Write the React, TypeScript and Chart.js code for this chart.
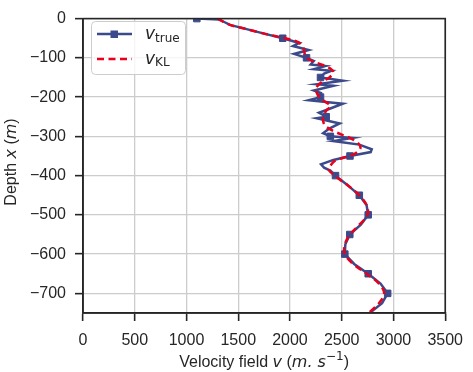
import React, { useEffect, useRef } from "react";
import { Chart, registerables } from "chart.js";

Chart.register(...registerables);

// v_true profile: depth (m, positive downward) and velocity (m/s)
const trueDepth = [0, 2, 8, 16, 28, 39, 50, 62, 70, 80, 90, 100, 108, 117, 121, 129, 133, 140, 150, 158, 167, 171, 183, 190, 200, 208, 217, 229, 240, 250, 254, 267, 280, 292, 300, 304, 312, 321, 333, 340, 350, 360, 371, 380, 387, 400, 425, 450, 475, 500, 525, 550, 575, 600, 625, 650, 675, 700, 725, 750];
const trueVelocity = [1100, 1317, 1360, 1420, 1600, 1760, 1930, 2090, 2030, 2180, 2040, 2160, 2230, 2200, 2340, 2230, 2400, 2330, 2295, 2510, 2260, 2420, 2230, 2300, 2295, 2180, 2510, 2390, 2280, 2350, 2258, 2480, 2380, 2320, 2390, 2600, 2420, 2670, 2790, 2780, 2580, 2420, 2300, 2330, 2390, 2440, 2560, 2670, 2740, 2756, 2685, 2578, 2535, 2530, 2620, 2756, 2875, 2944, 2890, 2770];

// v_KL profile
const klDepth = [0, 16, 28, 39, 50, 60, 75, 87, 100, 112, 124, 137, 150, 162, 179, 197, 210, 222, 235, 247, 260, 274, 290, 304, 318, 329, 340, 347, 362, 375, 384, 400, 425, 450, 475, 500, 525, 550, 575, 600, 625, 650, 675, 700, 725, 750];
const klVelocity = [1300, 1420, 1600, 1760, 1950, 2080, 2130, 2140, 2160, 2250, 2370, 2420, 2380, 2305, 2250, 2277, 2330, 2390, 2350, 2324, 2320, 2343, 2450, 2578, 2660, 2681, 2650, 2606, 2437, 2390, 2371, 2430, 2560, 2670, 2740, 2750, 2670, 2580, 2530, 2530, 2610, 2740, 2860, 2910, 2860, 2760];

const markerEvery = 50;
const markerMaxDepth = 700;
const xMin = 0, xMax = 3500, xStep = 500;
const yMin = -750, yMax = 0, yStep = 100;

const BLUE = "#3b4a8a";
const RED = "#e8001c";
const DARK = "#262626";
const GRID = "#cccccc";
const FONT = '"Liberation Sans", Arial, sans-serif';
const MATH = '"DejaVu Sans", sans-serif';

type Run = { text: string; font: string; dy?: number };

function runsWidth(ctx: CanvasRenderingContext2D, runs: Run[]) {
  let w = 0;
  for (const r of runs) {
    ctx.font = r.font;
    w += ctx.measureText(r.text).width;
  }
  return w;
}

function drawRuns(ctx: CanvasRenderingContext2D, runs: Run[], x: number, y: number) {
  let cx = x;
  ctx.textAlign = "left";
  ctx.textBaseline = "alphabetic";
  for (const r of runs) {
    ctx.font = r.font;
    ctx.fillText(r.text, cx, y + (r.dy || 0));
    cx += ctx.measureText(r.text).width;
  }
}

const decorPlugin = {
  id: "decor",
  afterDatasetsDraw(chart: any) {
    const ctx: CanvasRenderingContext2D = chart.ctx;
    const a = chart.chartArea;
    ctx.save();
    ctx.strokeStyle = DARK;
    ctx.lineWidth = 1.6;
    ctx.strokeRect(a.left, a.top, a.right - a.left, a.bottom - a.top);
    ctx.restore();
  },
  afterDraw(chart: any) {
    const ctx: CanvasRenderingContext2D = chart.ctx;
    const a = chart.chartArea;
    ctx.save();
    ctx.fillStyle = DARK;
    // X title
    const xr: Run[] = [
      { text: "Velocity field ", font: `16px ${FONT}` },
      { text: "v", font: `italic 16px ${MATH}` },
      { text: " (", font: `16px ${FONT}` },
      { text: "m. s", font: `italic 16px ${MATH}` },
      { text: "\u22121", font: `12px ${MATH}`, dy: -7 },
      { text: ")", font: `16px ${FONT}` },
    ];
    const xw = runsWidth(ctx, xr);
    drawRuns(ctx, xr, (a.left + a.right) / 2 - xw / 2, 367);
    // Y title
    const yr: Run[] = [
      { text: "Depth ", font: `16px ${FONT}` },
      { text: "x", font: `italic 16px ${MATH}` },
      { text: " (", font: `16px ${FONT}` },
      { text: "m", font: `italic 16px ${MATH}` },
      { text: ")", font: `16px ${FONT}` },
    ];
    const yw = runsWidth(ctx, yr);
    ctx.save();
    ctx.translate(16, 162);
    ctx.rotate(-Math.PI / 2);
    drawRuns(ctx, yr, -yw / 2, 0);
    ctx.restore();

    // Legend
    const bx = 91.5, by = 21.5, bw = 94, bh = 53, rr = 4;
    ctx.beginPath();
    ctx.moveTo(bx + rr, by);
    ctx.arcTo(bx + bw, by, bx + bw, by + bh, rr);
    ctx.arcTo(bx + bw, by + bh, bx, by + bh, rr);
    ctx.arcTo(bx, by + bh, bx, by, rr);
    ctx.arcTo(bx, by, bx + bw, by, rr);
    ctx.closePath();
    ctx.fillStyle = "rgba(255,255,255,0.8)";
    ctx.fill();
    ctx.strokeStyle = GRID;
    ctx.lineWidth = 1;
    ctx.stroke();

    ctx.strokeStyle = BLUE;
    ctx.lineWidth = 2.5;
    ctx.beginPath();
    ctx.moveTo(97, 34);
    ctx.lineTo(132, 34);
    ctx.stroke();
    ctx.fillStyle = BLUE;
    ctx.fillRect(110.5, 30.5, 7.5, 7.5);

    ctx.strokeStyle = RED;
    ctx.setLineDash([7, 4.5]);
    ctx.beginPath();
    ctx.moveTo(97, 59);
    ctx.lineTo(132, 59);
    ctx.stroke();
    ctx.setLineDash([]);

    ctx.fillStyle = DARK;
    drawRuns(ctx, [
      { text: "v", font: `italic 17px ${MATH}` },
      { text: "true", font: `12px ${MATH}`, dy: 3 },
    ], 145, 38.5);
    drawRuns(ctx, [
      { text: "v", font: `italic 17px ${MATH}` },
      { text: "KL", font: `12px ${MATH}`, dy: 2 },
    ], 145, 64);
    ctx.restore();
  },
};

const fmt = (v: number) => (v < 0 ? "\u2212" + Math.abs(v) : String(v));

export default function App() {
  const ref = useRef<HTMLCanvasElement>(null);
  useEffect(() => {
    if (!ref.current) return;
    const trueData = trueDepth.map((d, i) => ({ x: trueVelocity[i], y: -d }));
    const klData = klDepth.map((d, i) => ({ x: klVelocity[i], y: -d }));
    const chart = new Chart(ref.current, {
      type: "scatter",
      data: {
        datasets: [
          {
            label: "v_true",
            data: trueData,
            showLine: true,
            borderColor: BLUE,
            backgroundColor: BLUE,
            borderWidth: 2.5,
            pointStyle: "rect",
            pointRadius: (c: any) => {
              const d = trueDepth[c.dataIndex];
              return d % markerEvery === 0 && d <= markerMaxDepth ? 4.6 : 0;
            },
            pointBorderWidth: 1,
            pointHoverRadius: 0,
            clip: 0,
            order: 1,
          } as any,
          {
            label: "v_KL",
            data: klData,
            showLine: true,
            borderColor: RED,
            borderWidth: 2.5,
            borderDash: [7, 4.5],
            pointRadius: 0,
            tension: 0.35,
            clip: 0,
            order: 0,
          } as any,
        ],
      },
      options: {
        animation: false,
        responsive: false,
        events: [],
        layout: { padding: { top: 13, right: 18, left: 0, bottom: 0 } },
        plugins: { legend: { display: false }, tooltip: { enabled: false } },
        scales: {
          x: {
            type: "linear",
            min: xMin,
            max: xMax,
            ticks: { stepSize: xStep, color: DARK, font: { family: FONT, size: 16 }, padding: 10, callback: (v: any) => fmt(Number(v)) },
            grid: { color: GRID, lineWidth: 1.3, tickColor: DARK, tickLength: 8, tickWidth: 1.6 } as any,
            border: { color: DARK, width: 1.6 },
            afterFit: (s: any) => { s.height = 59; },
          },
          y: {
            type: "linear",
            min: yMin,
            max: yMax,
            ticks: { stepSize: yStep, color: DARK, font: { family: FONT, size: 16 }, padding: 9, callback: (v: any) => fmt(Number(v)) },
            grid: { color: GRID, lineWidth: 1.3, tickColor: DARK, tickLength: 8, tickWidth: 1.6 } as any,
            border: { color: DARK, width: 1.6 },
            afterBuildTicks: (s: any) => { s.ticks = s.ticks.filter((t: any) => t.value % yStep === 0); },
            afterFit: (s: any) => { s.width = 83; },
          },
        },
      },
      plugins: [decorPlugin],
    } as any);
    return () => chart.destroy();
  }, []);
  return (
    <div style={{ position: "absolute", left: 0, top: 0, width: 473, height: 372, background: "#fff" }}>
      <canvas ref={ref} width={473} height={372} style={{ display: "block" }} />
    </div>
  );
}
